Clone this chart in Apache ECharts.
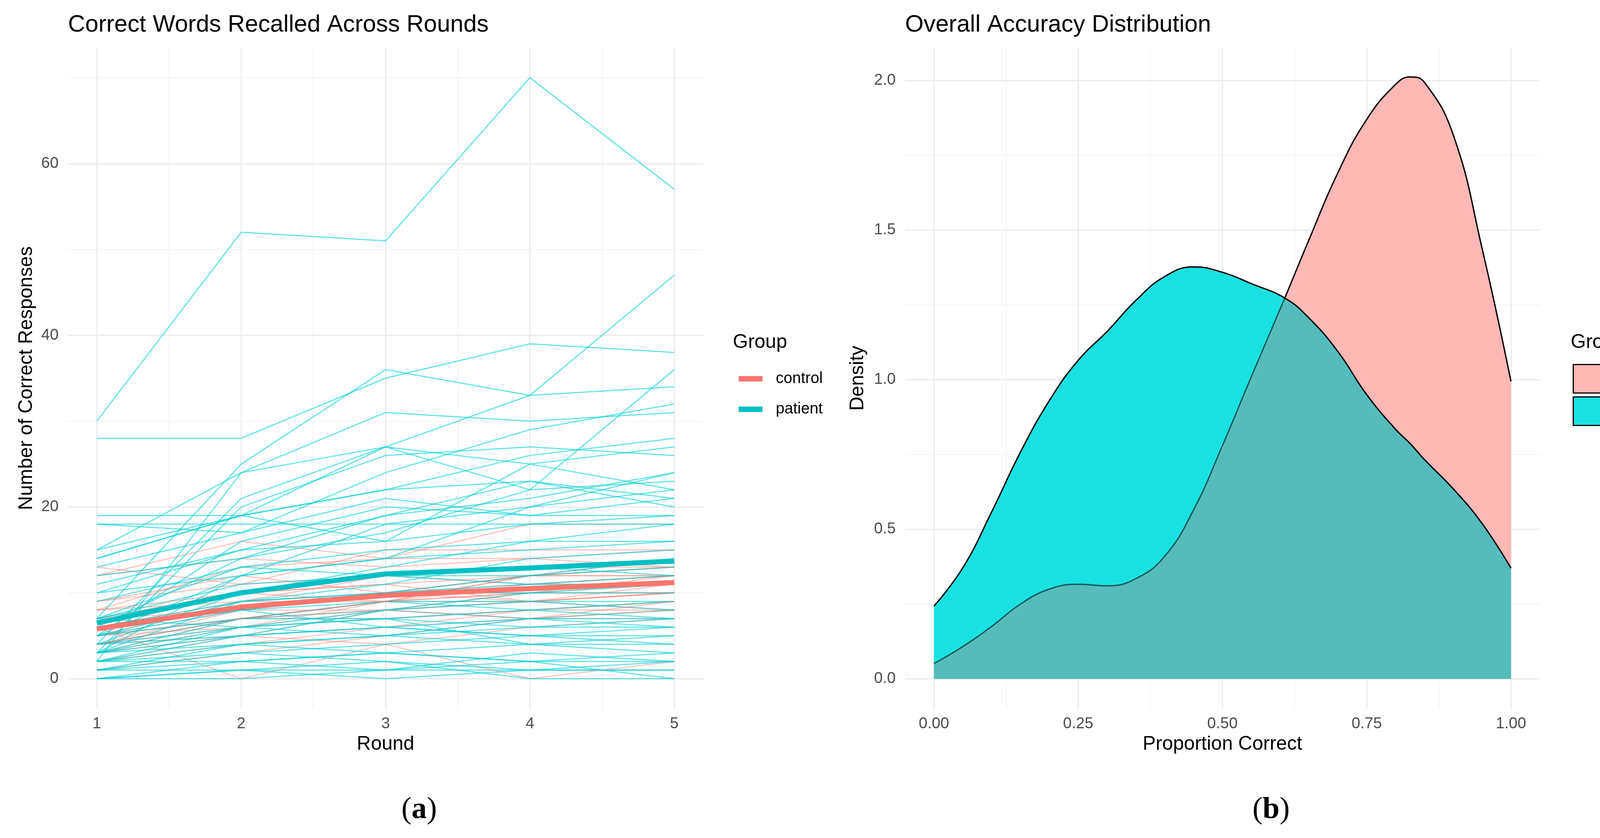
<!DOCTYPE html>
<html>
<head>
<meta charset="utf-8">
<script src="https://cdn.jsdelivr.net/npm/echarts@6/dist/echarts.min.js"></script>
<style>
  html, body { margin: 0; padding: 0; background: #fff; }
  #chart { width: 4270px; height: 2146px; }
</style>
</head>
<body>
<div id="chart"></div>
<script>
// ---- data ----
const rounds = [1, 2, 3, 4, 5];

// correct words per round, one row per control subject
const controlRecall = [
  [12, 16, 14, 18, 18], [13, 11, 15, 15, 15], [8, 13, 14, 14, 15], [12, 14, 13, 14, 13],
  [9, 11, 12, 13, 13], [7, 10, 11, 12, 12], [8, 9, 12, 11, 12], [5, 9, 10, 12, 13],
  [6, 8, 10, 11, 12], [4, 8, 10, 10, 11], [5, 7, 9, 11, 11], [6, 9, 9, 10, 10],
  [4, 7, 9, 9, 11], [5, 8, 8, 10, 10], [3, 6, 9, 10, 12], [9, 12, 10, 9, 10],
  [7, 10, 11, 9, 8], [4, 6, 8, 9, 10], [3, 7, 7, 8, 9], [2, 5, 8, 9, 10],
  [5, 6, 7, 8, 8], [4, 5, 6, 7, 7], [2, 4, 6, 8, 9], [6, 0, 4, 0, 2],
  [3, 5, 4, 6, 7], [8, 10, 9, 12, 14], [1, 3, 5, 7, 8], [5, 7, 8, 7, 9],
  [7, 8, 10, 12, 12], [4, 7, 9, 12, 13]
];

// correct words per round, one row per patient
const patientRecall = [
  [30, 52, 51, 70, 57], [28, 28, 35, 39, 38], [7, 25, 36, 33, 34], [2, 24, 31, 30, 31],
  [14, 19, 27, 33, 47], [15, 24, 27, 22, 36], [18, 17, 24, 29, 32], [19, 19, 22, 26, 28],
  [4, 21, 27, 25, 27], [3, 20, 26, 27, 26], [15, 19, 22, 23, 21], [18, 18, 18, 20, 24],
  [14, 19, 16, 25, 22], [5, 16, 20, 19, 21], [10, 15, 19, 23, 20], [13, 17, 21, 19, 19],
  [3, 12, 18, 18, 18], [6, 14, 17, 22, 23], [7, 13, 15, 16, 16], [5, 12, 14, 15, 16],
  [4, 10, 13, 16, 18], [3, 9, 11, 14, 15], [7, 11, 12, 11, 12], [6, 9, 10, 10, 10],
  [5, 8, 9, 9, 9], [4, 7, 9, 8, 9], [3, 7, 8, 7, 8], [2, 6, 8, 9, 8],
  [5, 7, 7, 8, 7], [4, 6, 7, 6, 7], [3, 5, 6, 7, 7], [2, 5, 6, 5, 6],
  [1, 4, 5, 6, 6], [3, 4, 5, 4, 5], [2, 3, 4, 5, 5], [0, 2, 3, 4, 4],
  [1, 2, 3, 2, 3], [0, 1, 1, 2, 2], [1, 1, 0, 1, 1], [0, 1, 2, 0, 0],
  [2, 2, 1, 1, 1], [0, 0, 1, 3, 2], [6, 8, 6, 5, 4], [7, 6, 7, 4, 3],
  [5, 9, 10, 12, 13], [4, 5, 8, 10, 11], [9, 13, 12, 13, 12], [3, 6, 5, 7, 6],
  [2, 4, 3, 2, 0], [1, 3, 2, 1, 2], [11, 15, 16, 18, 19], [10, 12, 14, 20, 22],
  [12, 14, 19, 21, 24], [7, 10, 12, 12, 14], [6, 8, 10, 11, 11]
];

// group means (thick lines)
const controlMean = [5.8, 8.35, 9.7, 10.5, 11.2];
const patientMean = [6.5, 10.0, 12.2, 12.9, 13.7];

// density of overall proportion correct
const densityX = [0, 0.05, 0.1, 0.15, 0.2, 0.25, 0.3, 0.35, 0.4, 0.45, 0.5, 0.55, 0.608,
  0.65, 0.7, 0.75, 0.8, 0.825, 0.85, 0.9, 0.95, 1.0];
const controlDensity = [0.051, 0.108, 0.175, 0.25, 0.30, 0.316, 0.311, 0.335, 0.41, 0.565, 0.78,
  1.01, 1.273, 1.468, 1.692, 1.87, 1.987, 2.012, 1.994, 1.818, 1.438, 0.994];
const patientDensity = [0.243, 0.371, 0.558, 0.758, 0.93, 1.065, 1.161, 1.265, 1.345, 1.377, 1.359,
  1.321, 1.273, 1.206, 1.094, 0.95, 0.834, 0.787, 0.733, 0.635, 0.519, 0.37];
const densityCross = 0.608; // where the two curves meet

// tick labels / grid lines
const roundTicks = [1, 2, 3, 4, 5];
const roundMinor = [1.5, 2.5, 3.5, 4.5];
const recallTicks = [0, 20, 40, 60];
const recallMinor = [10, 30, 50, 70];
const propTicks = [0, 0.25, 0.5, 0.75, 1];
const propMinor = [0.125, 0.375, 0.625, 0.875];
const densTicks = [0, 0.5, 1, 1.5, 2];
const densMinor = [0.25, 0.75, 1.25, 1.75];

// ---- styling ----
const FONT = '"Liberation Sans", Arial, sans-serif';
const SERIF = '"Liberation Serif", "Times New Roman", serif';
const C_CONTROL = '#F8766D';
const C_PATIENT = '#00BFC4';
const GRID_MAJOR = { color: '#EBEBEB', width: 3, type: 'solid' };
const GRID_MINOR = { color: '#EFEFEF', width: 1.6, type: 'solid' };

let chart = echarts.init(document.getElementById('chart'), null, { renderer: 'canvas' });

// main axis: labels + major grid; minor axis: only minor grid
function mainAxis(grid, min, max, ticks, fmt, name, gap, margin) {
  return {
    type: 'value', gridIndex: grid, min: min, max: max,
    axisLine: { show: false },
    axisTick: { show: false, customValues: ticks },
    axisLabel: {
      customValues: ticks, formatter: fmt, margin: margin,
      fontSize: 40, fontFamily: FONT, color: '#4D4D4D'
    },
    splitLine: { show: true, lineStyle: GRID_MAJOR },
    name: name, nameLocation: 'middle', nameGap: gap,
    nameTextStyle: { fontSize: 50, fontFamily: FONT, color: '#000' }
  };
}
function minorAxis(grid, min, max, ticks) {
  return {
    type: 'value', gridIndex: grid, min: min, max: max,
    axisLine: { show: false },
    axisTick: { show: false, customValues: ticks },
    axisLabel: { show: false },
    splitLine: { show: true, lineStyle: GRID_MINOR }
  };
}

let series = [];

function subjectLine(row, name, color, opacity) {
  return {
    type: 'line', name: name, xAxisIndex: 0, yAxisIndex: 0,
    data: rounds.map((r, i) => [r, row[i]]),
    symbol: 'none', silent: true,
    lineStyle: { color: color, width: 3, opacity: opacity },
    emphasis: { disabled: true }
  };
}
// interleave the two groups so neither sits fully on top
const nSubj = Math.max(controlRecall.length, patientRecall.length);
for (let k = 0; k < nSubj; k++) {
  if (k < patientRecall.length) series.push(subjectLine(patientRecall[k], 'p' + k, '#00D0D4', 0.6));
  if (k < controlRecall.length) series.push(subjectLine(controlRecall[k], 'c' + k, C_CONTROL, 0.42));
}

series.push({
  type: 'line', name: 'patient', xAxisIndex: 0, yAxisIndex: 0,
  data: rounds.map((r, i) => [r, patientMean[i]]),
  symbol: 'none', color: C_PATIENT, lineStyle: { color: C_PATIENT, width: 13 }
});
series.push({
  type: 'line', name: 'control', xAxisIndex: 0, yAxisIndex: 0,
  data: rounds.map((r, i) => [r, controlMean[i]]),
  symbol: 'none', color: C_CONTROL, lineStyle: { color: C_CONTROL, width: 13 }
});

// density panel: fills first, outlines on top
const ctrlPts = densityX.map((x, i) => [x, controlDensity[i]]);
const patPts = densityX.map((x, i) => [x, patientDensity[i]]);
function densFill(name, pts, fill) {
  return {
    type: 'line', name: name, xAxisIndex: 2, yAxisIndex: 2, data: pts,
    smooth: 0.45, symbol: 'none', silent: true,
    areaStyle: fill ? { color: fill, opacity: 1 } : { opacity: 1 },
    lineStyle: { width: 0 }
  };
}
function densLine(name, pts, color) {
  let ls = { width: 3.5 };
  if (color) ls.color = color;
  return {
    type: 'line', name: name, xAxisIndex: 2, yAxisIndex: 2, data: pts,
    smooth: 0.45, symbol: 'none', silent: true, lineStyle: ls
  };
}
const base = series.length;
series.push(densFill('patient fill', patPts, '#1AE1E1'));     // base + 0
series.push(densFill('control fill', ctrlPts, '#FEB8B5'));    // base + 1
series.push(densFill('patient overlap', patPts, null));       // base + 2
series.push(densFill('control overlap', ctrlPts, null));      // base + 3
series.push(densLine('control outline', ctrlPts, null));      // base + 4
series.push(densLine('patient outline', patPts, '#000'));     // base + 5

const OVERLAP = '#55BCBB';
const CLEAR = 'rgba(0,0,0,0)';
function split(idx, left, right) {
  return {
    type: 'piecewise', show: false, dimension: 0, seriesIndex: idx,
    pieces: [
      { gte: -1, lt: densityCross, color: left },
      { gte: densityCross, lte: 2, color: right }
    ]
  };
}

function caption(x, letter) {
  return {
    type: 'text', x: x, y: 2075, silent: true,
    style: {
      text: '{p|(}{b|' + letter + '}{p|)}', align: 'center', verticalAlign: 'middle', fill: '#000',
      rich: {
        p: { fontSize: 78, fontFamily: SERIF, fill: '#000' },
        b: { fontSize: 78, fontFamily: SERIF, fontWeight: 'bold', fill: '#000' }
      }
    }
  };
}
function legendTitle(x) {
  return {
    type: 'text', x: x, y: 877, silent: true,
    style: { text: 'Group', font: '50px ' + FONT, fill: '#000', align: 'left', verticalAlign: 'middle' }
  };
}

let option = {
  backgroundColor: '#fff',
  animation: false,
  title: [
    { text: 'Correct Words Recalled Across Rounds', left: 174, top: 34, padding: 0,
      textStyle: { fontSize: 61, fontWeight: 'normal', fontFamily: FONT, color: '#000' } },
    { text: 'Overall Accuracy Distribution', left: 2317, top: 34, padding: 0,
      textStyle: { fontSize: 61, fontWeight: 'normal', fontFamily: FONT, color: '#000' } }
  ],
  grid: [
    { left: 174, top: 122, width: 1626, height: 1693, outerBoundsMode: 'none', containLabel: false },
    { left: 2317, top: 122, width: 1625, height: 1693, outerBoundsMode: 'none', containLabel: false }
  ],
  xAxis: [
    mainAxis(0, 0.8, 5.2, roundTicks, v => String(v), 'Round', 66, 19),
    minorAxis(0, 0.8, 5.2, roundMinor),
    mainAxis(1, -0.05, 1.05, propTicks, v => v.toFixed(2), 'Proportion Correct', 66, 19),
    minorAxis(1, -0.05, 1.05, propMinor)
  ],
  yAxis: [
    mainAxis(0, -3.5, 73.5, recallTicks, v => String(v), 'Number of Correct Responses', 81, 24),
    minorAxis(0, -3.5, 73.5, recallMinor),
    mainAxis(1, -0.1, 2.11, densTicks, v => v.toFixed(1), 'Density', 96, 24),
    minorAxis(1, -0.1, 2.11, densMinor)
  ],
  legend: [
    {
      orient: 'vertical', left: 1886, top: 945, itemWidth: 61, itemHeight: 14, itemGap: 38,
      icon: 'rect', selectedMode: false,
      data: [
        { name: 'control', itemStyle: { color: C_CONTROL, borderWidth: 0 } },
        { name: 'patient', itemStyle: { color: C_PATIENT, borderWidth: 0 } }
      ],
      textStyle: { fontSize: 40, fontFamily: FONT, color: '#000', padding: [0, 0, 0, 29] }
    },
    {
      orient: 'vertical', left: 4021, top: 927, itemWidth: 75, itemHeight: 73, itemGap: 7,
      icon: 'rect', selectedMode: false,
      data: [
        { name: 'control', itemStyle: { color: '#FEB8B5', borderColor: '#000', borderWidth: 3 } },
        { name: 'patient', itemStyle: { color: '#1AE1E1', borderColor: '#000', borderWidth: 3 } }
      ],
      textStyle: { fontSize: 40, fontFamily: FONT, color: '#000', padding: [0, 0, 0, 22] }
    }
  ],
  visualMap: [
    split(base + 2, CLEAR, OVERLAP),
    split(base + 3, OVERLAP, CLEAR),
    split(base + 4, '#0E5A5B', '#000')
  ],
  graphic: [
    legendTitle(1876),
    legendTitle(4021),
    caption(1073, 'a'),
    caption(3254, 'b')
  ],
  series: series
};

chart.setOption(option);
</script>
</body>
</html>
